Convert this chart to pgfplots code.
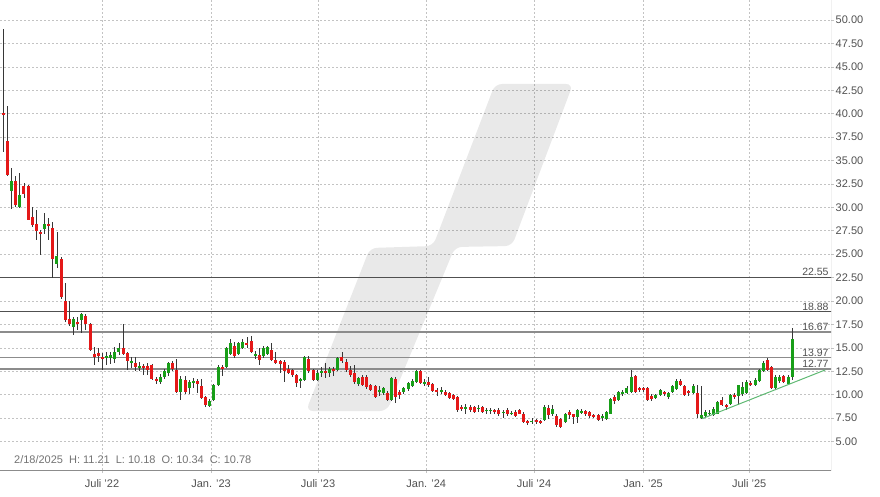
\documentclass[border=0pt]{standalone}
\usepackage{pgfplots}
\pgfplotsset{compat=1.18}
\usepackage{pgfplotstable}
\usepackage{fontspec}
\setmainfont{Liberation Sans}

\definecolor{upc}{RGB}{24,158,24}
\definecolor{dnc}{RGB}{228,24,24}
\definecolor{wickc}{RGB}{55,55,55}
\definecolor{gridc}{RGB}{195,195,195}
\definecolor{trend}{RGB}{95,185,115}
\definecolor{lvlA}{RGB}{80,80,80}
\definecolor{lvlB}{RGB}{140,140,140}
\definecolor{txt}{RGB}{80,80,80}

\pgfplotstableread{
i o h l c
2 31.7 34.2 29.8 32.8
4 30.0 33.7 29.9 31.3
10 27.7 29.4 27.2 28.2
13 24.0 27.4 23.5 24.8
17 17.2 18.3 16.4 18.1
19 18.0 18.7 16.6 18.6
25 13.9 14.6 13.2 14.1
26 13.9 14.6 13.3 14.2
27 13.8 15.1 13.4 14.6
28 14.6 15.5 14.2 15.0
31 13.4 14.0 12.9 13.6
33 12.9 13.5 12.5 13.1
38 11.4 12.2 11.1 11.9
39 11.9 12.7 11.7 12.5
40 12.3 13.5 12.0 13.4
43 10.3 12.0 9.4 11.7
45 10.7 11.6 10.1 11.4
46 11.3 11.8 10.7 11.5
50 8.8 9.5 8.7 9.3
51 9.4 11.1 9.3 11.0
52 11.0 13.2 10.9 13.0
54 13.0 15.1 12.9 15.0
55 14.4 15.9 14.2 15.5
57 14.3 15.6 14.2 15.5
58 15.0 16.0 14.9 15.6
61 14.1 14.7 13.8 14.4
63 14.1 15.2 13.9 15.0
64 14.3 15.2 14.2 15.1
72 11.5 11.8 10.7 11.7
73 11.6 14.1 11.5 14.0
76 11.6 12.6 11.5 12.3
77 12.3 13.0 11.9 12.5
79 12.3 13.0 11.9 12.8
81 12.6 14.0 12.5 13.9
86 11.2 11.9 10.9 11.8
91 10.3 10.9 9.9 10.5
92 10.2 10.8 10.0 10.7
94 9.4 11.9 9.3 11.8
97 10.3 10.8 10.1 10.7
98 10.6 11.4 10.4 11.3
99 10.9 11.7 10.8 11.5
100 11.4 12.6 11.3 12.5
102 11.2 11.7 10.9 11.4
106 10.3 10.8 10.1 10.5
112 8.5 9.0 8.0 8.7
115 8.5 8.9 8.2 8.6
117 8.3 8.6 8.0 8.4
118 8.3 8.6 7.9 8.4
121 8.1 8.4 7.5 8.2
123 8.0 8.3 7.8 8.1
128 7.1 7.5 6.9 7.2
131 7.3 8.9 7.2 8.7
133 7.9 8.9 7.7 8.5
136 7.1 8.1 7.0 7.95
139 7.6 8.5 7.0 8.4
140 8.1 8.5 7.9 8.3
145 7.5 7.9 7.2 7.7
146 7.4 8.3 7.3 8.2
147 8.0 9.7 7.9 9.5
149 9.4 10.4 9.3 10.3
150 10.1 10.5 9.9 10.3
151 10.2 10.9 10.1 10.7
152 10.3 12.6 10.2 11.9
158 9.7 10.1 9.5 10.0
159 10.0 10.6 9.9 10.5
161 9.8 10.3 9.6 10.2
162 10.3 11.0 10.2 10.9
163 10.6 11.7 10.5 11.5
167 10.2 11.1 10.1 10.9
169 7.5 10.9 7.4 7.8
170 7.7 8.4 7.5 8.2
171 8.0 8.4 7.7 8.1
172 7.8 8.7 7.7 8.5
173 8.0 9.3 7.9 9.2
176 9.0 10.1 8.9 10.0
178 9.9 11.0 8.9 11.0
179 10.1 11.4 9.9 10.8
180 10.2 11.6 10.1 11.4
182 11.0 11.8 10.9 11.6
183 11.5 12.7 11.4 12.6
184 12.5 13.6 12.4 13.4
187 10.7 12.1 10.6 11.9
188 11.5 12.1 11.3 11.9
190 11.1 12.1 11.0 11.9
191 11.9 17.1 11.6 16.0
}\upcandles

\pgfplotstableread{
i o h l c
0 40.1 49.0 35.9 39.9
1 37.1 40.8 33.3 33.5
3 32.8 33.3 30.0 30.3
5 32.3 32.6 31.0 31.4
6 32.3 32.4 28.6 28.7
7 29.0 30.0 27.9 28.1
8 28.2 29.7 26.5 27.5
9 27.4 27.6 24.9 27.2
11 28.2 28.9 26.5 28.0
12 27.8 28.4 22.5 24.5
14 24.5 24.7 20.2 20.4
15 20.0 21.9 17.8 18.0
16 18.1 20.0 17.3 17.5
18 17.8 18.3 16.9 17.6
20 18.4 18.6 16.9 17.6
21 17.6 17.7 14.7 14.8
22 14.4 15.1 13.2 14.0
23 14.5 15.0 13.5 14.1
24 14.0 14.5 12.6 13.8
29 15.0 17.6 14.2 14.4
30 14.5 14.6 12.6 13.6
32 13.4 14.0 12.5 13.0
34 13.1 13.3 12.1 12.9
35 13.1 13.4 12.1 12.6
36 13.2 13.3 11.6 11.7
37 11.7 11.9 11.1 11.5
41 13.4 13.6 12.5 12.7
42 12.6 13.8 10.2 10.3
44 11.6 12.0 10.1 10.3
47 11.5 11.7 10.2 11.2
48 10.9 11.7 9.5 9.7
49 9.8 9.9 8.7 8.9
53 13.0 13.2 12.0 12.8
56 15.2 15.6 13.9 14.1
59 15.5 16.2 15.0 15.3
60 15.7 16.3 14.5 14.6
62 14.2 15.0 13.2 13.7
65 14.8 15.5 13.6 13.7
66 13.7 14.6 13.3 13.4
67 13.6 13.7 12.3 13.3
68 13.5 13.7 11.4 12.5
69 12.8 13.2 12.2 12.3
70 12.6 12.7 11.9 12.1
71 12.1 12.2 10.8 11.3
74 13.8 14.1 12.3 12.5
75 12.6 12.7 11.5 11.6
78 12.5 13.4 11.8 12.3
80 12.7 13.0 12.0 12.5
82 14.0 14.6 13.4 13.6
83 13.5 13.8 12.4 12.6
84 12.6 13.1 11.9 12.1
85 12.3 13.2 11.2 11.4
87 11.9 12.1 10.9 11.0
88 11.9 12.1 10.6 10.8
89 11.0 11.2 10.4 10.5
90 10.9 11.0 9.7 9.8
93 10.2 10.4 9.3 9.4
95 11.7 11.9 9.1 9.8
96 10.3 10.5 9.6 10.0
101 12.5 12.6 11.2 11.3
103 11.4 11.9 10.8 11.0
104 11.2 11.3 10.3 10.4
105 10.5 10.7 9.9 10.3
107 10.3 10.5 9.9 10.0
108 10.2 10.3 9.6 9.7
109 10.0 10.1 9.4 9.5
110 9.8 9.9 8.2 8.4
111 8.7 8.9 8.3 8.5
113 8.7 8.9 8.2 8.4
114 8.7 8.8 8.1 8.2
116 8.7 8.8 8.1 8.2
119 8.4 8.5 8.0 8.2
120 8.4 8.6 7.7 7.95
122 8.4 8.6 7.7 8.0
124 8.2 8.4 7.6 7.7
125 8.4 8.5 7.9 8.0
126 8.0 8.2 7.0 7.1
127 7.2 7.3 6.8 7.0
129 7.3 7.4 6.9 7.1
130 7.2 7.3 6.9 7.0
132 8.55 8.9 7.4 7.8
134 7.75 7.9 6.6 6.8
135 7.4 7.5 6.5 6.6
137 8.2 8.4 7.4 7.8
138 7.9 8.0 6.9 7.6
141 8.3 8.4 7.7 7.9
142 8.2 8.3 7.5 7.7
143 7.8 7.9 7.5 7.6
144 7.8 7.9 7.2 7.3
148 9.8 10.0 9.0 9.3
153 12.0 12.1 10.2 10.3
154 10.7 10.8 10.3 10.5
155 10.7 10.8 10.3 10.5
156 10.7 10.8 9.3 9.4
157 9.9 10.1 9.3 9.5
160 10.3 10.4 9.9 10.1
164 11.5 11.7 10.9 11.0
165 10.9 11.0 9.9 10.0
166 10.4 10.5 9.9 10.2
168 10.2 11.0 7.5 8.0
174 9.4 9.8 8.8 8.9
175 8.9 9.0 8.4 8.7
177 10.0 10.2 9.6 9.8
181 11.3 11.5 10.9 11.1
185 13.7 13.9 12.5 12.6
186 13.0 13.1 10.6 10.7
189 12.0 12.1 11.3 11.4
}\downcandles

\pgfplotsset{
  candle/.style 2 args={draw=none, mark=none, forget plot,
    error bars/.cd, y dir=both, y explicit, error mark=none,
    error bar style={draw=#1, solid, line width=#2}},
}

\begin{document}
\begin{tikzpicture}[x=1pt,y=1pt]
\useasboundingbox (0,-26) rectangle (880,470);
\begin{axis}[
  at={(0,0)}, anchor=south west,
  scale only axis, width=831pt, height=470pt,
  xmin=-0.8, xmax=200.4, ymin=1.97, ymax=52.13,
  axis line style={draw=none},
  xtick={23.9,50.3,76.2,102.4,128.5,154.9,180.6},
  xticklabels={Juli '22,Jan. '23,Juli '23,Jan. '24,Juli '24,Jan. '25,Juli '25},
  ytick={5,7.5,...,50},
  xtick pos=bottom, ytick pos=right,
  yticklabel pos=right,
  tick align=outside, major tick length=3pt,
  tick style={gridc, line width=0.6pt},
  grid=major,
  grid style={gridc, line width=0.6pt, dash pattern=on 2pt off 2pt},
  ticklabel style={font=\fontsize{11}{13}\selectfont, text=txt},
  yticklabel style={anchor=west, inner sep=1.5pt},
  xticklabel style={anchor=north, yshift=-3pt},
  yticklabel={\pgfmathprintnumber[fixed,fixed zerofill,precision=2,assume math mode=true]{\tick}},
  clip=true,
]
% watermark
\fill[black, fill opacity=0.085, rounded corners=7pt]
  (rel axis cs:0.5957,0.8213) -- (rel axis cs:0.6895,0.8213) --
  (rel axis cs:0.6161,0.4766) -- (rel axis cs:0.5475,0.4745) --
  (rel axis cs:0.4657,0.1255) -- (rel axis cs:0.3682,0.1255) --
  (rel axis cs:0.4452,0.4723) -- (rel axis cs:0.5211,0.4766) -- cycle;

% frame
\draw[lvlB, line width=1pt] (rel axis cs:0,1) -- (rel axis cs:0,0) -- (rel axis cs:1,0) -- (rel axis cs:1,1);

% horizontal levels
\addplot[lvlA, line width=1pt, forget plot] coordinates {(-1,22.55) (201,22.55)};
\addplot[lvlA, line width=1pt, forget plot] coordinates {(-1,18.88) (201,18.88)};
\addplot[lvlB, line width=1.6pt, forget plot] coordinates {(-1,16.67) (201,16.67)};
\addplot[lvlB, line width=1.6pt, forget plot] coordinates {(-1,13.97) (201,13.97)};
\addplot[lvlB, line width=1.6pt, forget plot] coordinates {(-1,12.77) (201,12.77)};

% wicks
\addplot[candle={wickc}{0.9pt}]
  table[x=i, y expr={(\thisrow{h}+\thisrow{l})/2}, y error expr={(\thisrow{h}-\thisrow{l})/2}] {\upcandles};
\addplot[candle={wickc}{0.9pt}]
  table[x=i, y expr={(\thisrow{h}+\thisrow{l})/2}, y error expr={(\thisrow{h}-\thisrow{l})/2}] {\downcandles};
% bodies
\addplot[candle={upc}{3pt}]
  table[x=i, y expr={(\thisrow{o}+\thisrow{c})/2}, y error expr={(\thisrow{c}-\thisrow{o})/2}] {\upcandles};
\addplot[candle={dnc}{3pt}]
  table[x=i, y expr={(\thisrow{o}+\thisrow{c})/2}, y error expr={(\thisrow{o}-\thisrow{c})/2}] {\downcandles};

% trendline
\addplot[trend, line width=1pt, forget plot] coordinates {(169.2,7.45) (199,12.65)};

% level labels
\foreach \v/\t in {22.55/22.55,18.88/18.88,16.67/16.67,13.97/13.97,12.77/12.77}{
  \edef\tmp{\noexpand\node[anchor=south east, inner sep=1pt, text=txt, font=\noexpand\fontsize{10.5}{12}\noexpand\selectfont] at (axis cs:200.1,\v) {\t};}
  \tmp
}

% info text
\node[anchor=west, inner sep=0pt, text=txt!80, font=\fontsize{11}{13}\selectfont]
  at (rel axis cs:0.0168,0.0213) {2/18/2025\hspace{6pt}H: 11.21\hspace{6pt}L: 10.18\hspace{6pt}O: 10.34\hspace{6pt}C: 10.78};
\end{axis}
\end{tikzpicture}
\end{document}
